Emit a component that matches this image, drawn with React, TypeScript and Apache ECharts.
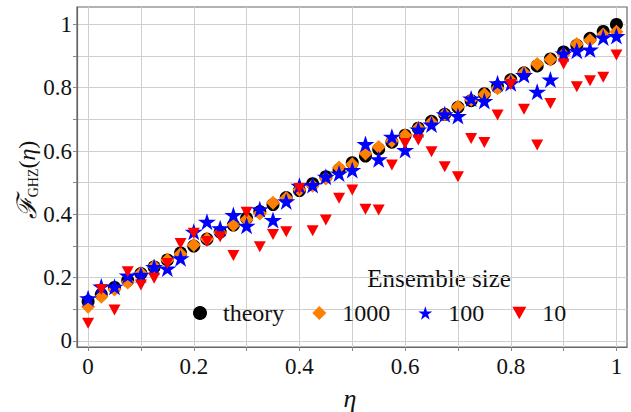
import React, { useEffect, useRef } from 'react';
import * as echarts from 'echarts';

const etaValues = [0, 0.025, 0.05, 0.075, 0.1, 0.125, 0.15, 0.175, 0.2, 0.225, 0.25, 0.275, 0.3, 0.325, 0.35, 0.375, 0.4, 0.425, 0.45, 0.475, 0.5, 0.525, 0.55, 0.575, 0.6, 0.625, 0.65, 0.675, 0.7, 0.725, 0.75, 0.775, 0.8, 0.825, 0.85, 0.875, 0.9, 0.925, 0.95, 0.975, 1];
const theoryValues = [0.125, 0.147, 0.169, 0.191, 0.213, 0.234, 0.256, 0.278, 0.3, 0.322, 0.344, 0.366, 0.388, 0.409, 0.431, 0.453, 0.475, 0.497, 0.519, 0.541, 0.563, 0.584, 0.606, 0.628, 0.65, 0.672, 0.694, 0.716, 0.738, 0.759, 0.781, 0.803, 0.825, 0.847, 0.869, 0.891, 0.913, 0.934, 0.956, 0.978, 1.0];
const ensemble1000 = [0.108, 0.14, 0.163, 0.185, 0.214, 0.236, 0.256, 0.275, 0.303, 0.322, 0.342, 0.366, 0.384, 0.403, 0.437, 0.452, 0.478, 0.49, 0.513, 0.548, 0.558, 0.592, 0.613, 0.632, 0.65, 0.672, 0.69, 0.716, 0.74, 0.762, 0.779, 0.798, 0.822, 0.847, 0.875, 0.889, 0.905, 0.938, 0.95, 0.968, 0.977];
const ensemble100 = [0.135, 0.172, 0.171, 0.207, 0.209, 0.234, 0.229, 0.261, 0.345, 0.377, 0.356, 0.398, 0.364, 0.416, 0.382, 0.441, 0.49, 0.493, 0.519, 0.529, 0.54, 0.622, 0.574, 0.645, 0.603, 0.668, 0.684, 0.716, 0.711, 0.766, 0.758, 0.814, 0.814, 0.84, 0.787, 0.826, 0.908, 0.917, 0.921, 0.959, 0.963];
const ensemble10 = [0.056, 0.163, 0.098, 0.219, 0.177, 0.198, 0.245, 0.308, 0.34, 0.314, 0.329, 0.27, 0.407, 0.298, 0.336, 0.345, 0.482, 0.348, 0.382, 0.451, 0.477, 0.416, 0.414, 0.556, 0.624, 0.635, 0.598, 0.55, 0.519, 0.64, 0.627, 0.714, 0.81, 0.732, 0.619, 0.75, 0.875, 0.803, 0.822, 0.833, 0.903];

const seriesNames = ['theory', '1000', '100', '10'];
const xTickLabels = [0, 0.2, 0.4, 0.6, 0.8, 1];
const yTickLabels = [0, 0.2, 0.4, 0.6, 0.8, 1];
const gridValues = [0, 0.1, 0.2, 0.3, 0.4, 0.5, 0.6, 0.7, 0.8, 0.9, 1];

const FONT = 'Liberation Serif';
const TEXT = '#111111';
const STAR = 'path://M0,-100 L22.5,-30.9 L95.1,-30.9 L36.3,11.8 L58.8,80.9 L0,38.2 L-58.8,80.9 L-36.3,11.8 L-95.1,-30.9 L-22.5,-30.9 Z';
const TRI_DOWN = 'path://M0,0 L100,0 L50,90 Z';

const pairs = (ys: number[]) => etaValues.map((x, i) => [x, ys[i]]);

export default function App() {
  const ref = useRef<HTMLDivElement>(null);
  useEffect(() => {
    if (!ref.current) return;
    const chart = echarts.init(ref.current, undefined, { renderer: 'svg' });
    const axisCommon = {
      axisLine: { show: true, onZero: false, lineStyle: { color: '#666', width: 1.2 } },
      axisTick: { show: true, length: 4, customValues: gridValues, lineStyle: { color: '#888' } },
      splitLine: { show: true, lineStyle: { color: '#cfcfcf', width: 1 } },
    };
    chart.setOption({
      animation: false,
      backgroundColor: '#ffffff',
      textStyle: { fontFamily: FONT },
      grid: { left: 77, right: 4, top: 7, bottom: 65, show: true, borderColor: '#666', borderWidth: 1.2 },
      xAxis: {
        type: 'value', min: -0.021, max: 1.02,
        ...axisCommon,
        axisLabel: { customValues: xTickLabels, formatter: (v: number) => String(v), fontFamily: FONT, fontSize: 23, color: TEXT, margin: 8 },
      },
      yAxis: {
        type: 'value', min: -0.019, max: 1.055,
        ...axisCommon,
        axisLabel: { customValues: yTickLabels, formatter: (v: number) => String(v), fontFamily: FONT, fontSize: 23, color: TEXT, margin: 5 },
      },
      legend: {
        data: seriesNames,
        left: 193, top: 301, padding: 0,
        itemWidth: 14, itemHeight: 14, itemGap: 28,
        textStyle: { fontFamily: FONT, fontSize: 24, color: TEXT, padding: [0, 0, 0, 11] },
      },
      graphic: [
        { type: 'text', x: 439, y: 278, style: { text: 'Ensemble size', fontFamily: FONT, fontSize: 25, fill: TEXT, align: 'center', verticalAlign: 'middle' } },
        { type: 'text', x: 350, y: 398, style: { text: 'η', fontFamily: FONT, fontSize: 26, fontStyle: 'italic', fill: TEXT, align: 'center', verticalAlign: 'middle' } },
        {
          type: 'text', x: 27, y: 180, rotation: Math.PI / 2,
          style: {
            text: '{f|ℱ}{s|GHZ}{p|(}{e|η}{p|)}',
            align: 'center', verticalAlign: 'middle', fill: TEXT,
            rich: {
              f: { fontFamily: FONT, fontSize: 27, fontStyle: 'italic', fill: TEXT },
              s: { fontFamily: FONT, fontSize: 14, verticalAlign: 'bottom', fill: TEXT },
              p: { fontFamily: FONT, fontSize: 24, fill: TEXT },
              e: { fontFamily: FONT, fontSize: 24, fontStyle: 'italic', fill: TEXT },
            },
          },
        },
      ],
      series: [
        { name: 'theory', type: 'scatter', data: pairs(theoryValues), symbol: 'circle', symbolSize: 13, itemStyle: { color: '#000000', opacity: 1 }, z: 2 },
        { name: '1000', type: 'scatter', data: pairs(ensemble1000), symbol: 'diamond', symbolSize: 14, itemStyle: { color: '#ff8000', opacity: 1 }, z: 3 },
        { name: '100', type: 'scatter', data: pairs(ensemble100), symbol: STAR, symbolSize: [18, 17], itemStyle: { color: '#0000ff', opacity: 1 }, z: 4 },
        { name: '10', type: 'scatter', data: pairs(ensemble10), symbol: TRI_DOWN, symbolSize: [12, 11], itemStyle: { color: '#ff0000', opacity: 1 }, z: 5 },
      ],
    });
    return () => chart.dispose();
  }, []);
  return <div ref={ref} style={{ position: 'fixed', left: 0, top: 0, width: 631, height: 412 }} />;
}
